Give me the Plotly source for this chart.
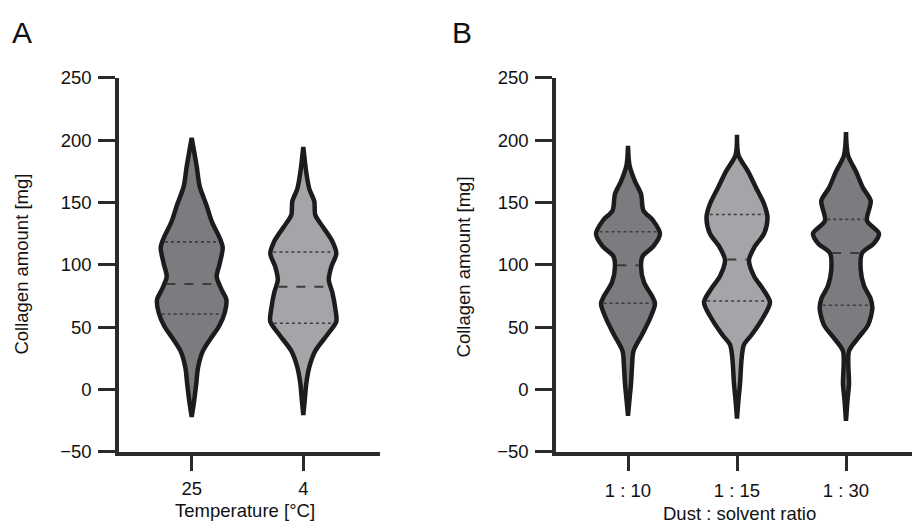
import numpy as np
import plotly.graph_objects as go

# ---------------- data ----------------
# Panel A: temperature
temp_categories = ["25", "4"]
# violin profiles: value levels (mg) and relative density (half-width)
a25_levels = [-22, -8.7, 4.4, 17.5, 30.6, 41, 51, 61.6, 72, 80, 90.5, 101, 113.8, 121.6, 135, 148, 163, 179, 202]
a25_density = [0, 2.5, 4.5, 6.3, 11, 19, 27.5, 33, 34.7, 30, 25, 28, 31, 28, 20, 14.7, 8, 5, 0]
a4_levels = [-20.5, -8, 5, 18, 31, 44, 54.5, 65, 78, 88, 98.5, 109, 119, 130, 140, 151, 161, 174, 194.7]
a4_density = [0, 1.5, 3, 6, 12, 24, 33, 32, 29, 25.5, 28, 33, 29, 20, 12, 11, 6, 3, 0]
a25_quartiles = [60.6, 84.6, 118.5]
a4_quartiles = [53.2, 82.5, 110.4]

# Panel B: dust : solvent ratio
ratio_categories = ["1 : 10", "1 : 15", "1 : 30"]
b10_levels = [-21, -8, 4.6, 18, 31, 44, 57, 69, 75, 86, 99, 107, 115, 125, 136, 143.5, 157, 167, 180, 195.5]
b10_density = [0, 1.5, 3, 4, 5.5, 14, 22, 27, 24, 16, 13, 14.7, 25.5, 32, 24.7, 15.5, 13, 7, 1.5, 0]
b15_levels = [-23.3, -8, 4.6, 25.6, 36, 44, 57, 70, 80.6, 91, 104, 115, 125, 138, 149, 162, 175, 188, 204.5]
b15_density = [0, 1.5, 3, 4.7, 7, 14.7, 25.5, 33, 26, 17, 12, 18, 27, 30.5, 27, 19, 11, 1.5, 0]
b30_levels = [-25, -8.5, 4.6, 30.8, 41.3, 51.7, 64.9, 72.7, 83.2, 96.3, 109.4, 117.3, 125.2, 135.6, 151.3, 161.8, 174.9, 188, 206.6]
b30_density = [0, 1.5, 3, 3, 12, 22, 26.3, 24.7, 18, 14.7, 16, 28, 33, 21, 24.7, 17, 10, 2, 0]
b10_quartiles = [69.2, 99.8, 126.6]
b15_quartiles = [71.0, 104.3, 140.5]
b30_quartiles = [67.6, 109.6, 136.5]

y_ticks = [-50, 0, 50, 100, 150, 200, 250]

# ---------------- styling ----------------
W, H = 912, 532
DARK = "#7b7c80"
LIGHT = "#a4a5a9"
OUTLINE = "#1c1c1c"
AXIS = "#2a2a2a"
FONT = "Liberation Sans, Arial, Helvetica, sans-serif"
TXT = "#111111"

fig = go.Figure()

def add_violin(pos, levels, dens, quarts, fill, xa, ya, px_per_unit):
    lv = np.asarray(levels, float)
    hw = np.asarray(dens, float) / px_per_unit
    xs = np.concatenate([pos + hw, (pos - hw)[::-1], [pos + hw[0]]])
    ys = np.concatenate([lv, lv[::-1], [lv[0]]])
    fig.add_trace(go.Scatter(x=xs, y=ys, mode="lines", fill="toself", fillcolor=fill,
                             line=dict(color=OUTLINE, width=4.5, shape="spline", smoothing=0.8),
                             xaxis=xa, yaxis=ya, hoverinfo="skip", showlegend=False))
    for i, q in enumerate(quarts):
        w = np.interp(q, lv, dens)
        w = max(w - 2.5, 0) / px_per_unit
        dash = "dash" if i == 1 else "dot"
        fig.add_trace(go.Scatter(x=[pos - w, pos + w], y=[q, q], mode="lines",
                                 line=dict(color="#3c3c3c", width=2 if i == 1 else 1.6, dash=dash),
                                 xaxis=xa, yaxis=ya, hoverinfo="skip", showlegend=False))

# pixel geometry of the axes
A_x0, A_x1 = 119, 380
B_x0, B_x1 = 556, 912
Y_top, Y_bot = 69.7, 459
A_c0, A_unit = 191.7, 111.6
B_c0, B_unit = 628, 109.0

add_violin(0, a25_levels, a25_density, a25_quartiles, DARK, "x", "y", A_unit)
add_violin(1, a4_levels, a4_density, a4_quartiles, LIGHT, "x", "y", A_unit)
add_violin(0, b10_levels, b10_density, b10_quartiles, DARK, "x2", "y2", B_unit)
add_violin(1, b15_levels, b15_density, b15_quartiles, LIGHT, "x2", "y2", B_unit)
add_violin(2, b30_levels, b30_density, b30_quartiles, DARK, "x2", "y2", B_unit)

xa_range = [-(A_c0 - A_x0) / A_unit, (A_x1 - A_c0) / A_unit]
xb_range = [-(B_c0 - B_x0) / B_unit, (B_x1 - B_c0) / B_unit]

common_y = dict(range=[-50, 250], tickvals=y_ticks, showline=True, linecolor=AXIS, linewidth=3.5,
                ticks="outside", ticklen=17, tickwidth=3, tickcolor=AXIS, showgrid=False, zeroline=False,
                ticklabelstandoff=3,
                tickfont=dict(family=FONT, size=18.5, color=TXT), fixedrange=True)
common_x = dict(showline=True, linecolor=AXIS, linewidth=3.5, ticks="outside", ticklen=15, tickwidth=3,
                tickcolor=AXIS, showgrid=False, zeroline=False,
                tickfont=dict(family=FONT, size=18.5, color=TXT), fixedrange=True)

ydom = [(H - Y_bot) / H, (H - Y_top) / H]
fig.update_layout(
    width=W, height=H, margin=dict(l=0, r=0, t=0, b=0),
    paper_bgcolor="white", plot_bgcolor="white",
    xaxis=dict(domain=[A_x0 / W, A_x1 / W], range=xa_range, tickvals=list(range(len(temp_categories))),
               ticktext=temp_categories, anchor="y", ticklabelstandoff=2, **common_x),
    yaxis=dict(domain=ydom, anchor="x", **common_y),
    xaxis2=dict(domain=[B_x0 / W, B_x1 / W], range=xb_range, tickvals=list(range(len(ratio_categories))),
                ticktext=ratio_categories, anchor="y2", ticklabelstandoff=4, **common_x),
    yaxis2=dict(domain=ydom, anchor="x2", **common_y),
)

def ann(text, x, y, size=18.5, angle=0, xanchor="center"):
    fig.add_annotation(text=text, x=x / W, y=(H - y) / H, xref="paper", yref="paper",
                       showarrow=False, textangle=angle, xanchor=xanchor, yanchor="middle",
                       font=dict(family=FONT, size=size, color=TXT))

ann("Collagen amount [mg]", 22, 264, angle=-90)
ann("Collagen amount [mg]", 463, 267, angle=-90)
ann("Temperature [°C]", 245, 520.5)
ann("Dust : solvent ratio", 739, 523)
ann("A", 10, 22.5, size=30, xanchor="left")
ann("B", 450, 22.5, size=30, xanchor="left")

fig.write_html("out.html", config={"displayModeBar": False},
               post_script="document.body.style.margin='0';document.body.style.overflow='hidden';")
